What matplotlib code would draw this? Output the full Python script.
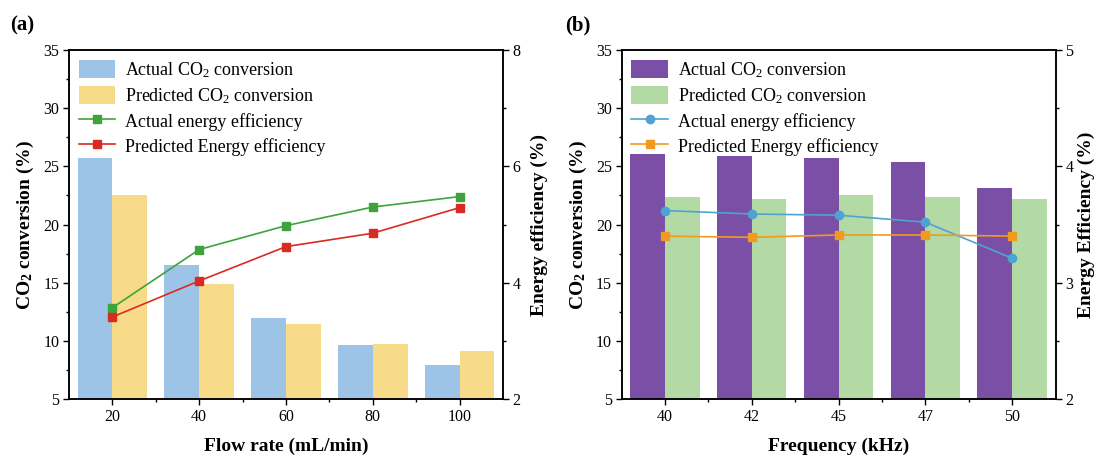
import numpy as np
import matplotlib.pyplot as plt
from matplotlib.ticker import MultipleLocator, FixedLocator

plt.rcParams['font.family'] = ['Liberation Serif', 'DejaVu Serif']
plt.rcParams['mathtext.fontset'] = 'custom'
plt.rcParams['mathtext.rm'] = 'Liberation Serif'
plt.rcParams['mathtext.bf'] = 'Liberation Serif:bold'
plt.rcParams['mathtext.default'] = 'regular'

# (a) flow rate series
flow = ["20", "40", "60", "80", "100"]
conv_actual_a = [25.75, 16.5, 12.0, 9.6, 7.9]
conv_pred_a = [22.5, 14.85, 11.45, 9.7, 9.1]
ee_actual_a = [3.57, 4.57, 4.98, 5.30, 5.48]
ee_pred_a = [3.41, 4.03, 4.62, 4.85, 5.29]

# (b) frequency series
freq = ["40", "42", "45", "47", "50"]
conv_actual_b = [26.05, 25.85, 25.75, 25.33, 23.1]
conv_pred_b = [22.33, 22.2, 22.5, 22.38, 22.2]
ee_actual_b = [3.62, 3.59, 3.58, 3.52, 3.21]
ee_pred_b = [3.40, 3.39, 3.41, 3.41, 3.40]

fig = plt.figure(figsize=(10.97, 4.57), dpi=100)
ax_a = fig.add_axes([0.0629, 0.1269, 0.3956, 0.7637])
ax_b = fig.add_axes([0.5666, 0.1269, 0.3956, 0.7637])


def style_ticks(a):
    a.tick_params(which='both', direction='out', labelsize=11.5, width=1)
    a.tick_params(which='major', length=4, pad=3)
    a.tick_params(which='minor', length=2.5)


def panel(ax, cats, bar1, bar2, line1, line2, c_bar1, c_bar2, c_l1, c_l2,
          mk1, ylim2, major2, minor2, xlabel, ylabel2, pad2):
    x = np.arange(len(cats))
    w = 0.4
    b1 = ax.bar(x - w / 2, bar1, w, color=c_bar1, label="Actual CO$_2$ conversion")
    b2 = ax.bar(x + w / 2, bar2, w, color=c_bar2, label="Predicted CO$_2$ conversion")
    ax.set_xlim(-0.5, 4.5)
    ax.set_ylim(5, 35)
    ax.set_xticks(x)
    ax.set_xticklabels(cats)
    ax.xaxis.set_minor_locator(FixedLocator(x[:-1] + 0.5))
    ax.yaxis.set_major_locator(MultipleLocator(5))
    ax.yaxis.set_minor_locator(MultipleLocator(2.5))
    ax.set_xlabel(xlabel, fontsize=14, fontweight='bold', labelpad=9)
    ax.set_ylabel("CO$_2$ conversion (%)", fontsize=14, fontweight='bold', labelpad=5)
    style_ticks(ax)

    ax2 = ax.twinx()
    l1, = ax2.plot(x, line1, color=c_l1, marker=mk1, ms=6, lw=1.2,
                   label="Actual energy efficiency")
    l2, = ax2.plot(x, line2, color=c_l2, marker='s', ms=6, lw=1.2,
                   label="Predicted Energy efficiency")
    ax2.set_ylim(*ylim2)
    ax2.yaxis.set_major_locator(MultipleLocator(major2))
    ax2.yaxis.set_minor_locator(MultipleLocator(minor2))
    ax2.set_ylabel(ylabel2, fontsize=14, fontweight='bold', labelpad=pad2)
    style_ticks(ax2)

    for a in (ax, ax2):
        for s in a.spines.values():
            s.set_linewidth(1.1)

    handles = [b1, b2, l1, l2]
    ax2.legend(handles, [h.get_label() for h in handles],
               loc='upper left', frameon=False, fontsize=13,
               handlelength=2.0, handleheight=1.2, handletextpad=0.55,
               labelspacing=0.32, borderaxespad=0.1, borderpad=0.45)
    return ax2


panel(ax_a, flow, conv_actual_a, conv_pred_a, ee_actual_a, ee_pred_a,
      '#9DC3E6', '#F8DB88', '#3DA33A', '#D92B22', 's',
      (2, 8), 2, 1, "Flow rate (mL/min)", "Energy efficiency (%)", 7)
panel(ax_b, freq, conv_actual_b, conv_pred_b, ee_actual_b, ee_pred_b,
      '#7B4FA5', '#B3D9A5', '#4FA3D3', '#F29A1F', 'o',
      (2, 5), 1, 0.5, "Frequency (kHz)", "Energy Efficiency (%)", 3)

fig.text(0.009, 0.945, "(a)", fontsize=15, fontweight='bold', va='center')
fig.text(0.515, 0.945, "(b)", fontsize=15, fontweight='bold', va='center')

fig.savefig("out.png", dpi=100)
